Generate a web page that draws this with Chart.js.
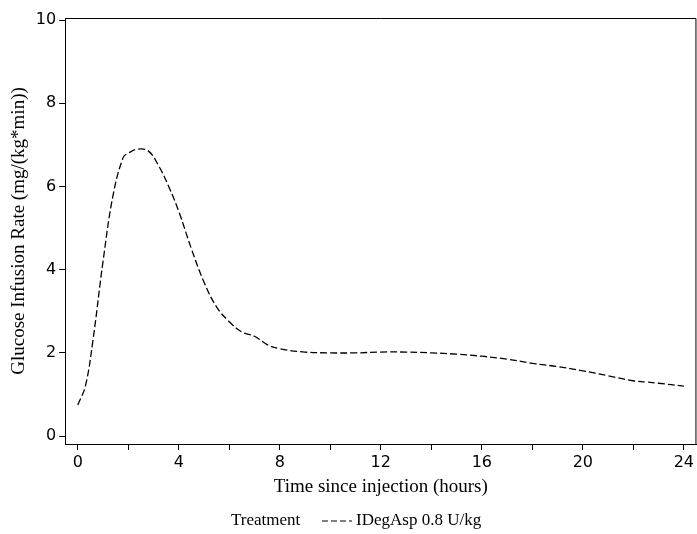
<!DOCTYPE html>
<html><head><meta charset="utf-8">
<script src="https://cdn.jsdelivr.net/npm/chart.js@4/dist/chart.umd.min.js"></script>
<style>html,body{margin:0;padding:0;background:#fff}#c{display:block}</style>
</head><body>
<div style="width:697px;height:534px"><canvas id="c"></canvas></div>
<script>
const timeHours=[0,0.3,0.6,1.0,1.4,1.8,2.0,2.4,2.8,3.2,3.6,4.0,4.5,5.0,5.5,6.0,6.5,7.0,7.5,8.0,9,10,11,12,13,14,15,16,17,18,19,20,21,22,22.5,23,24];
const gir=[0.75,1.2,2.3,4.2,5.8,6.7,6.8,6.9,6.85,6.5,6.0,5.4,4.5,3.7,3.1,2.75,2.5,2.4,2.2,2.1,2.02,2.0,2.0,2.02,2.02,2.0,1.97,1.92,1.85,1.75,1.67,1.57,1.45,1.33,1.3,1.27,1.2];
const xTicks=[0,2,4,6,8,10,12,14,16,18,20,22,24];
const yTicks=[0,2,4,6,8,10];
const seriesLabel='IDegAsp 0.8 U/kg';
const frame={id:'frame',afterDraw(c){const a=c.chartArea,g=c.ctx;g.save();g.strokeStyle='#000';g.lineWidth=1;
g.beginPath();g.moveTo(a.left,a.top+0.5);g.lineTo(a.right-0.5,a.top+0.5);g.lineTo(a.right-0.5,a.bottom);g.stroke();
g.font='17px "Liberation Serif"';g.fillStyle='#000';g.textBaseline='middle';
const y=521;g.fillText('Treatment',231,y);
g.setLineDash([6,3]);g.beginPath();g.moveTo(322,y);g.lineTo(352,y);g.stroke();g.setLineDash([]);
g.fillText(seriesLabel,356,y);g.restore();}};
new Chart(document.getElementById('c'),{type:'line',
data:{datasets:[{data:timeHours.map((t,i)=>({x:t,y:gir[i]})),borderColor:'#000',borderWidth:1.3,borderDash:[7,3],pointRadius:0,tension:0.4,fill:false}]},
options:{responsive:true,maintainAspectRatio:false,animation:false,
layout:{padding:{top:18,right:0,bottom:32,left:4}},
plugins:{legend:{display:false},tooltip:{enabled:false}},
scales:{
x:{type:'linear',min:-0.5,max:24.5,afterBuildTicks(s){s.ticks=xTicks.map(v=>({value:v}));},
ticks:{autoSkip:false,maxRotation:0,color:'#000',font:{family:'DejaVu Sans',size:16},callback:v=>v%4===0?v:''},
grid:{drawOnChartArea:false,tickLength:6,color:'#000'},border:{color:'#000'},
title:{display:true,text:'Time since injection (hours)',color:'#000',font:{family:'Liberation Serif',size:19},padding:{top:0}}},
y:{min:-0.19,max:10.05,afterBuildTicks(s){s.ticks=yTicks.map(v=>({value:v}));},
ticks:{color:'#000',font:{family:'DejaVu Sans',size:16}},
grid:{drawOnChartArea:false,tickLength:6,color:'#000'},border:{color:'#000'},
title:{display:true,text:'Glucose Infusion Rate (mg/(kg*min))',color:'#000',font:{family:'Liberation Serif',size:19},padding:{bottom:2}}}
}},plugins:[frame]});
</script></body></html>
